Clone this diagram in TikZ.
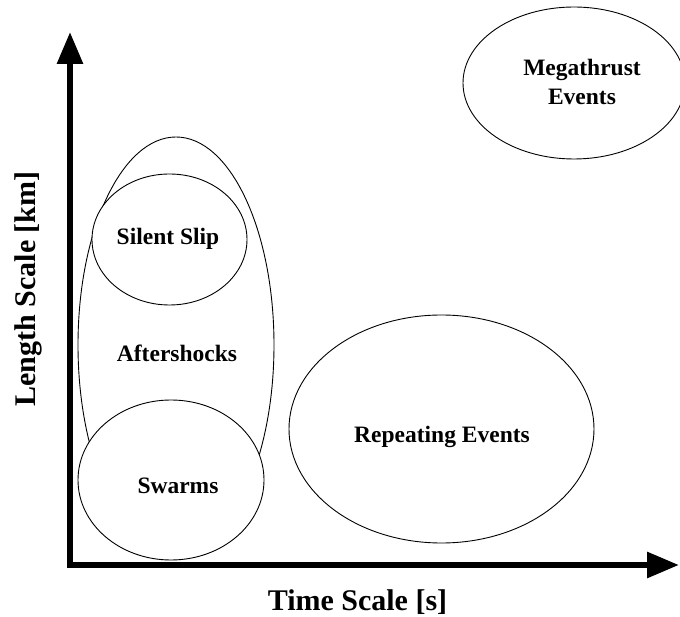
\documentclass[tikz,border=0pt]{standalone}
\usepackage{fontspec}
\setmainfont{Liberation Serif}
\usetikzlibrary{arrows.meta,positioning}

\begin{document}
\begin{tikzpicture}[x=10pt,y=10pt,
    evt/.style={font=\bfseries\fontsize{23.5}{29}\selectfont, anchor=base, inner sep=0pt},
    axlabel/.style={font=\bfseries\fontsize{30}{36}\selectfont, inner sep=0pt},
    region/.style={line width=0.9pt}]
    \clip (-7,-5.1) rectangle (61,56.5);

    % Axes
    \draw[line width=6pt, {Triangle[length=32pt,width=25pt]}-{Triangle[length=32pt,width=25pt]}]
        (0,53.3) -- (0,0) -- (60.9,0);
    \node[axlabel, rotate=90] (ylab) at (-4.2,27.6) {Length Scale [km]};
    \node[axlabel, anchor=base] (xlab) at (28.75,-4.5) {Time Scale [s]};

    % Aftershock zone (under the small ones)
    \draw[region] (10.6,22) ellipse (9.8 and 20.8);
    \draw[region, fill=white] (9.95,32.55) ellipse (7.75 and 6.55);
    \draw[region, fill=white] (10.1,8.5) ellipse (9.3 and 8);

    % Other events
    \draw[region] (37.15,13.6) ellipse (15.25 and 11.4);
    \draw[region] (50.4,48.2) ellipse (11.1 and 7.6);

    % Labels
    \node[evt] (slip) at (9.8,32) {Silent Slip};
    \node[evt] (after) at (10.7,20.3) {Aftershocks};
    \node[evt] (swarm) at (10.8,7.1) {Swarms};
    \node[evt] (repeat) at (37.2,12.2) {Repeating Events};
    \node[evt, anchor=center, align=center] (mega) at (51.2,48.3) {Megathrust\\Events};
\end{tikzpicture}
\end{document}
